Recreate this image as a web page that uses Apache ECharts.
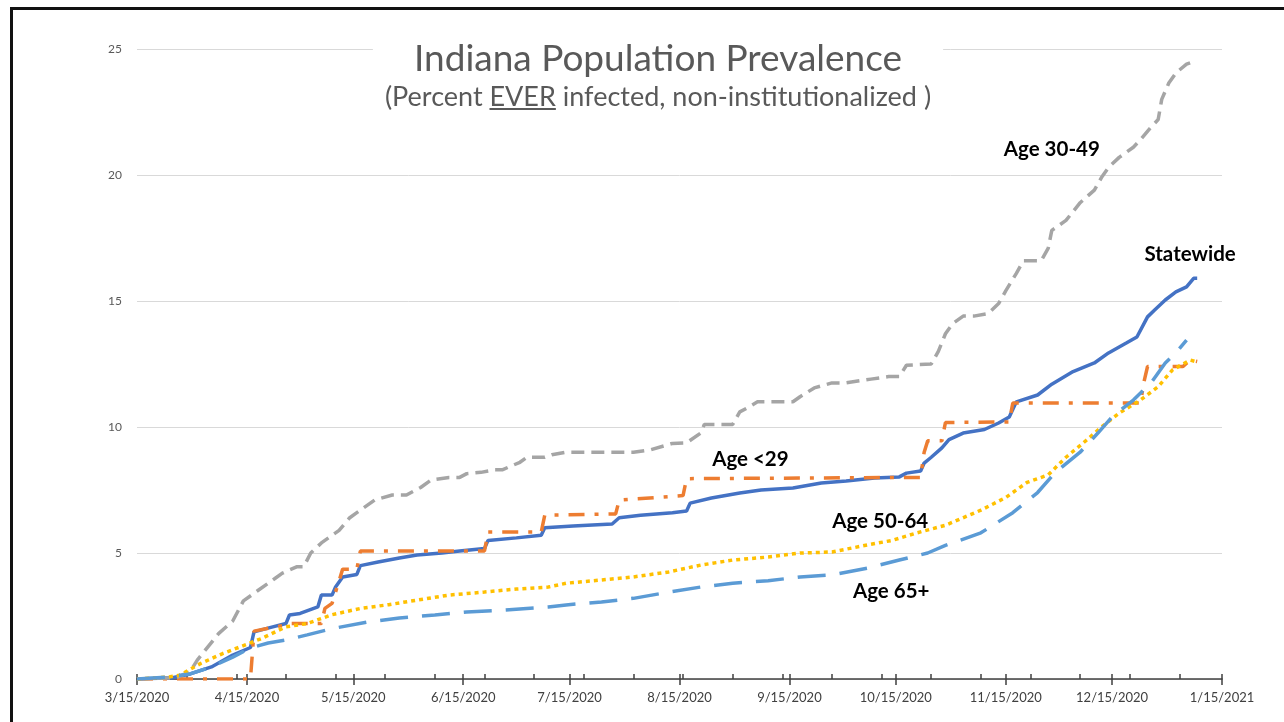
<!DOCTYPE html>
<html lang="en">
<head>
  <meta charset="UTF-8">
  <title>Indiana Population Prevalence</title>
  <style>
    html, body { margin: 0; padding: 0; background: #fff; overflow: hidden; }
    #myChart { position: absolute; left: 0; top: 0; width: 1284px; height: 722px; }
    #frame { position: absolute; left: 10px; top: 7px; width: 1400px; height: 900px; border: 3px solid #111; pointer-events: none; }
  </style>
</head>
<body>
  <div id="myChart"></div>
  <div id="frame"></div>
  <script src="https://cdn.jsdelivr.net/npm/echarts@6/dist/echarts.min.js"></script>
  <script>
    // x values are days counted from 3/15/2020
    const tickLabels = ['3/15/2020', '4/15/2020', '5/15/2020', '6/15/2020', '7/15/2020', '8/15/2020',
      '9/15/2020', '10/15/2020', '11/15/2020', '12/15/2020', '1/15/2021'];

    const statewideDays = [0, 10, 15, 21, 27, 32, 33, 38, 42, 43, 46, 51, 52, 55, 56, 58, 62, 63, 68, 74,
      79, 86, 91, 98, 99, 107, 114, 115, 123, 134, 136, 142, 151, 155, 156, 162, 170, 176, 185, 193,
      200, 208, 215, 217, 221, 222, 224, 227, 229, 233, 239, 243, 246, 248, 254, 258, 264, 270, 274, 279,
      282, 285, 287, 290, 293, 296, 298, 299];
    const statewideVals = [0, 0.05, 0.2, 0.48, 0.95, 1.25, 1.87, 2.06, 2.2, 2.54, 2.6, 2.86, 3.33, 3.33, 3.65, 4.05, 4.15, 4.5, 4.64, 4.8,
      4.92, 5.0, 5.08, 5.18, 5.5, 5.6, 5.7, 6.0, 6.07, 6.15, 6.4, 6.5, 6.6, 6.67, 6.98, 7.18, 7.38, 7.5, 7.58, 7.78,
      7.86, 7.98, 8.02, 8.17, 8.25, 8.57, 8.8, 9.17, 9.5, 9.76, 9.9, 10.16, 10.4, 11.0, 11.27, 11.7, 12.2, 12.54, 12.94, 13.33,
      13.57, 14.37, 14.64, 15.04, 15.36, 15.56, 15.9, 15.9];

    const under29Days = [0, 32, 33, 42, 43, 52, 53, 55, 56, 57, 58, 62, 63, 98, 99, 114, 115, 135, 136, 154,
      155, 221, 222, 223, 227, 228, 246, 247, 283, 284, 285, 295, 297, 299];
    const under29Vals = [0, 0, 1.9, 2.15, 2.2, 2.2, 2.8, 3.0, 3.45, 3.9, 4.36, 4.36, 5.08, 5.08, 5.83, 5.83, 6.5, 6.55, 7.1, 7.28,
      7.95, 8.0, 9.0, 9.45, 9.45, 10.18, 10.2, 10.95, 10.95, 11.8, 12.4, 12.4, 12.66, 12.6];

    const age3049Days = [0, 11, 15, 17, 23, 27, 30, 34, 39, 41, 45, 47, 49, 52, 57, 60, 62, 67, 72, 76,
      80, 83, 88, 91, 93, 97, 101, 103, 108, 110, 115, 117, 121, 140, 145, 151, 155, 159, 160, 168,
      170, 172, 175, 185, 187, 191, 196, 200, 205, 207, 212, 215, 217, 224, 226, 228, 230, 233, 236, 240,
      243, 245, 248, 250, 255, 257, 258, 262, 266, 270, 272, 274, 277, 281, 283, 286, 288, 289, 291, 293,
      296, 298];
    const age3049Vals = [0, 0.05, 0.3, 0.75, 1.8, 2.3, 3.1, 3.5, 4.0, 4.2, 4.45, 4.45, 5.0, 5.4, 5.9, 6.4, 6.6, 7.1, 7.3, 7.3,
      7.6, 7.9, 8.0, 8.0, 8.15, 8.2, 8.3, 8.3, 8.6, 8.8, 8.8, 8.9, 9.0, 9.0, 9.1, 9.35, 9.37, 9.76, 10.1, 10.1,
      10.6, 10.75, 11.0, 11.0, 11.2, 11.55, 11.75, 11.75, 11.86, 11.9, 12.0, 12.0, 12.45, 12.5, 13.0, 13.7, 14.1, 14.4, 14.4, 14.5,
      14.9, 15.4, 16.1, 16.6, 16.6, 17.1, 17.8, 18.2, 18.9, 19.4, 19.9, 20.3, 20.7, 21.1, 21.4, 21.9, 22.2, 23.0, 23.65, 24.05,
      24.4, 24.5];

    const age5064Days = [0, 9, 12, 18, 24, 29, 35, 42, 48, 55, 63, 71, 79, 88, 98, 107, 116, 121, 131, 140,
      150, 159, 168, 178, 187, 196, 206, 213, 220, 228, 238, 245, 251, 257, 262, 268, 272, 277, 283, 288,
      292, 297, 299];
    const age5064Vals = [0, 0.08, 0.15, 0.62, 1.0, 1.27, 1.6, 2.07, 2.2, 2.55, 2.8, 2.95, 3.13, 3.33, 3.45, 3.57, 3.65, 3.8, 3.93, 4.05,
      4.25, 4.52, 4.72, 4.84, 5.0, 5.04, 5.32, 5.5, 5.8, 6.1, 6.7, 7.2, 7.8, 8.1, 8.8, 9.5, 10.0, 10.55, 11.07, 11.6,
      12.26, 12.66, 12.58];

    const age65Days = [0, 9, 15, 21, 27, 32, 37, 42, 48, 55, 65, 74, 84, 93, 102, 116, 121, 131, 140, 150,
      159, 168, 178, 187, 196, 206, 215, 223, 228, 238, 247, 254, 259, 266, 271, 275, 281, 286, 290, 293,
      296];
    const age65Vals = [0, 0.08, 0.2, 0.48, 0.87, 1.23, 1.43, 1.55, 1.75, 2.0, 2.26, 2.42, 2.54, 2.66, 2.72, 2.86, 2.94, 3.06, 3.2, 3.45,
      3.65, 3.8, 3.9, 4.05, 4.13, 4.4, 4.72, 5.0, 5.3, 5.8, 6.6, 7.4, 8.2, 9.0, 9.76, 10.4, 11.07, 11.75, 12.54, 12.94,
      13.45];

    // series annotations: [day, value]
    const noteStatewide = [297, 16.83];
    const noteUnder29 = [173, 8.73];
    const note3049 = [258, 21.03];
    const note5064 = [209.6, 6.27];
    const note65 = [212.7, 3.49];

    const DAY = 86400000;
    const parseDate = (s) => {
      const [m, d, y] = s.split('/').map(Number);
      return new Date(y, m - 1, d).getTime();
    };
    const startTs = parseDate(tickLabels[0]);
    const endTs = parseDate(tickLabels[tickLabels.length - 1]);
    const majorTicks = tickLabels.map(parseDate);
    const minorTicks = [];
    for (let t = startTs; t <= endTs; t += 14 * DAY) minorTicks.push(t);

    const toPoints = (days, vals) => days.map((d, i) => [startTs + d * DAY, vals[i]]);
    const fmtDate = (v) => {
      const d = new Date(v);
      return (d.getMonth() + 1) + '/' + d.getDate() + '/' + d.getFullYear();
    };

    const makeSeries = (name, days, vals, color, dash, note) => ({
      name: name,
      type: 'line',
      data: toPoints(days, vals),
      showSymbol: false,
      symbol: 'none',
      lineStyle: { color: color, width: 3.5, type: dash, cap: 'butt' },
      markPoint: {
        silent: true,
        symbol: 'circle',
        symbolSize: 0,
        label: {
          show: true,
          position: 'inside',
          formatter: name,
          color: '#000',
          fontFamily: 'Lato',
          fontWeight: 'bold',
          fontSize: 20.5
        },
        data: [{ coord: [startTs + note[0] * DAY, note[1]] }]
      }
    });

    const myChart = echarts.init(document.getElementById('myChart'));
    const axisColor = '#404040';
    const option = {
      animation: false,
      title: {
        text: 'Indiana Population Prevalence',
        subtext: '(Percent {u|EVER} infected, non-institutionalized )',
        left: 646,
        top: 37,
        textAlign: 'center',
        backgroundColor: '#fff',
        padding: [4, 12, 6, 12],
        itemGap: 6,
        textStyle: { fontFamily: 'Lato', fontSize: 37, fontWeight: 'normal', color: '#595959' },
        subtextStyle: {
          fontFamily: 'Lato', fontSize: 27, color: '#595959',
          rich: {
            u: {
              fontFamily: 'Lato', fontSize: 27, color: '#595959',
              backgroundColor: {
                type: 'linear', x: 0, y: 0, x2: 0, y2: 1,
                colorStops: [
                  { offset: 0, color: 'rgba(89,89,89,0)' },
                  { offset: 0.9, color: 'rgba(89,89,89,0)' },
                  { offset: 0.9, color: '#595959' },
                  { offset: 0.98, color: '#595959' },
                  { offset: 0.98, color: 'rgba(89,89,89,0)' },
                  { offset: 1, color: 'rgba(89,89,89,0)' }
                ]
              }
            }
          }
        }
      },
      grid: { left: 137, right: 62, top: 49, bottom: 43, outerBoundsMode: 'none' },
      xAxis: [
        {
          type: 'value', min: startTs, max: endTs, position: 'bottom',
          axisLine: { lineStyle: { color: axisColor, width: 1.5 } },
          axisTick: { show: true, length: 6, customValues: majorTicks, lineStyle: { color: axisColor, width: 1.5 } },
          axisLabel: {
            customValues: majorTicks, formatter: fmtDate, color: axisColor,
            fontFamily: 'Lato', fontSize: 13, margin: 12, hideOverlap: false
          },
          splitLine: { show: false }
        },
        {
          type: 'value', min: startTs, max: endTs, position: 'bottom',
          axisLine: { show: false },
          axisTick: { show: true, inside: true, length: 5, customValues: minorTicks.concat(majorTicks), lineStyle: { color: axisColor, width: 1.5 } },
          axisLabel: { show: false },
          splitLine: { show: false }
        }
      ],
      yAxis: {
        type: 'value', min: 0, max: 25, interval: 5,
        axisLine: { show: false },
        axisTick: { show: false },
        axisLabel: { color: '#595959', fontFamily: 'Lato', fontSize: 12, margin: 15 },
        splitLine: { lineStyle: { color: '#d9d9d9', width: 1 } }
      },
      series: [
        makeSeries('Statewide', statewideDays, statewideVals, '#4472C4', 'solid', noteStatewide),
        makeSeries('Age <29', under29Days, under29Vals, '#ED7D31', [16, 10, 4, 10], noteUnder29),
        makeSeries('Age 30-49', age3049Days, age3049Vals, '#A5A5A5', [13, 7], note3049),
        makeSeries('Age 50-64', age5064Days, age5064Vals, '#FFC000', [4, 4], note5064),
        makeSeries('Age 65+', age65Days, age65Vals, '#5B9BD5', [28, 14], note65)
      ]
    };
    myChart.setOption(option);
  </script>
</body>
</html>
